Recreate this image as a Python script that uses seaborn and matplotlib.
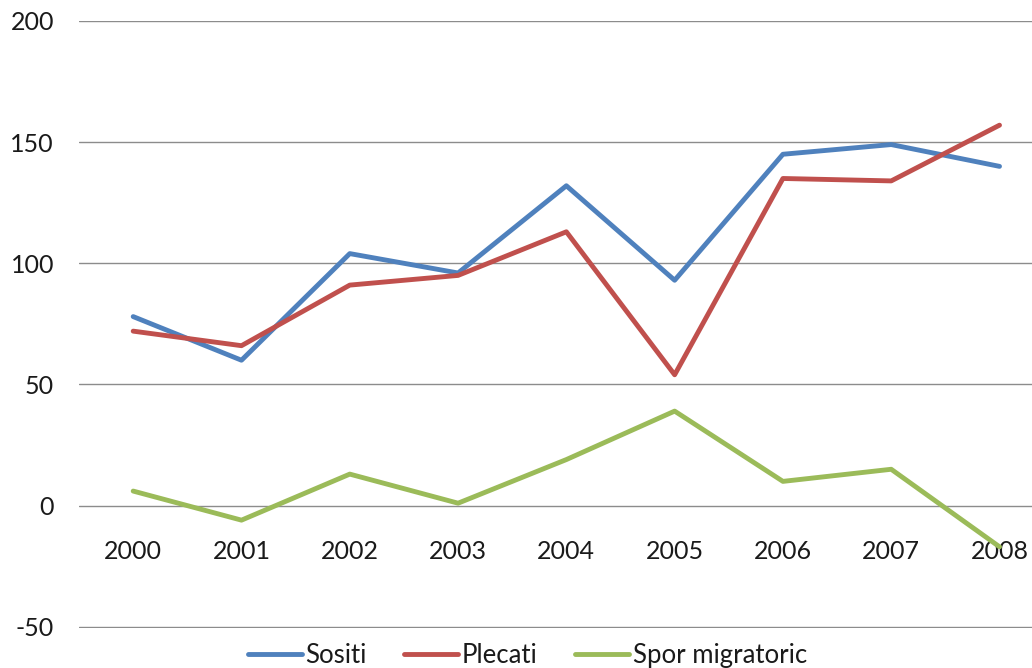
import matplotlib
matplotlib.use('Agg')
import matplotlib.pyplot as plt
import pandas as pd
import seaborn as sns

# date
ani = ['2000', '2001', '2002', '2003', '2004', '2005', '2006', '2007', '2008']
sositi = [78, 60, 104, 96, 132, 93, 145, 149, 140]
plecati = [72, 66, 91, 95, 113, 54, 135, 134, 157]
spor = [6, -6, 13, 1, 19, 39, 10, 15, -17]
serii = ['Sositi', 'Plecati', 'Spor migratoric']
culori = ['#4F81BD', '#C0504D', '#9BBB59']

sns.set_style('white')
plt.rcParams['font.family'] = ['Lato', 'DejaVu Sans']
plt.rcParams['axes.unicode_minus'] = False

df = pd.DataFrame({
    'idx': list(range(len(ani))) * 3,
    'valoare': sositi + plecati + spor,
    'serie': [s for s in serii for _ in ani],
})

fig = plt.figure(figsize=(10.32, 6.68), dpi=100)
ax = fig.add_axes([0.0766, 0.0599, 0.9234, 0.9087])

sns.lineplot(data=df, x='idx', y='valoare', hue='serie', hue_order=serii,
             palette=culori, linewidth=3.5, sort=False, ax=ax, legend=False,
             solid_capstyle='round', solid_joinstyle='round')

# grila orizontala
ax.set_ylim(-50.5, 200)
ax.set_yticks([-50, 0, 50, 100, 150, 200])
ax.yaxis.grid(True, color='#8c8c8c', linewidth=1)
ax.xaxis.grid(False)
ax.set_axisbelow(True)
ax.set_xlim(-0.5, 8.3)

for s in ['left', 'right', 'top']:
    ax.spines[s].set_visible(False)
# axa categoriilor trece prin 0
ax.spines['bottom'].set_position(('data', 0))
ax.spines['bottom'].set_visible(False)
ax.set_xticks(range(len(ani)))
ax.set_xticklabels(ani)
ax.tick_params(axis='x', length=0, pad=25, labelsize=18, colors='#1a1a1a')
ax.tick_params(axis='y', length=0, pad=18, labelsize=18, colors='#1a1a1a')
ax.set_xlabel('')
ax.set_ylabel('')

handles = [plt.Line2D([], [], color=c, linewidth=3.5, solid_capstyle='round') for c in culori]
fig.legend(handles, serii, loc='center', bbox_to_anchor=(0.511, 0.019),
           ncol=3, frameon=False, fontsize=18.5, handlelength=2.1,
           handletextpad=0.15, columnspacing=1.45, labelcolor='#1a1a1a')

fig.savefig('out.png', dpi=100)
